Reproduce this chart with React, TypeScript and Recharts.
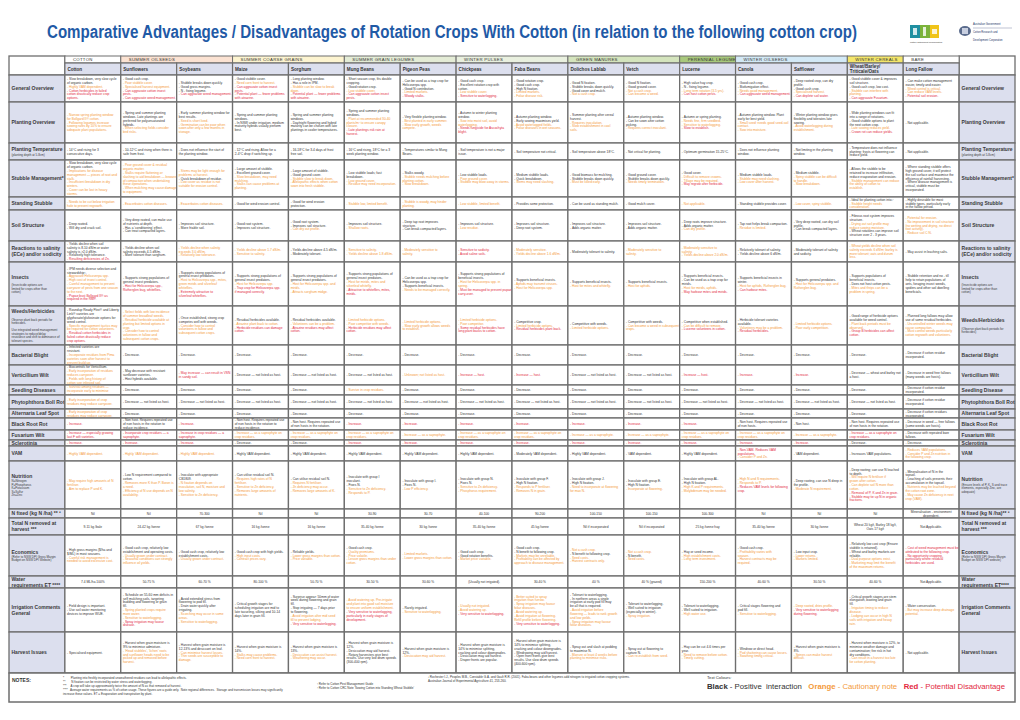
import React from "react";
import { ComposedChart, XAxis, YAxis, ReferenceArea } from "recharts";

// ---------------- DATA ----------------
const groupNames = ["COTTON", "SUMMER OILSEEDS", "SUMMER COARSE GRAINS", "SUMMER GRAIN LEGUMES", "WINTER PULSES", "GREEN MANURES", "PERENNIAL LEGUME", "WINTER OILSEEDS", "WINTER CEREALS", "BARE"];
const groupSpans = [1, 2, 2, 2, 2, 2, 1, 2, 1, 1];
const crops = ["Cotton", "Sunflowers", "Soybeans", "Maize", "Sorghum", "Mung Beans", "Pigeon Peas", "Chickpeas", "Faba Beans", "Dolichos Lablab", "Vetch", "Lucerne", "Canola", "Safflower", "Wheat/Barley/\nTriticale/Oats", "Long Fallow"];

const rowLabels = ["General Overview", "Planting Overview", "Planting Temperature", "Stubble Management*", "Standing Stubble", "Soil Structure", "Reactions to salinity\n(ECe)  and/or sodicity", "Insects", "Weeds/Herbicides", "Bacterial Blight", "Verticillium Wilt", "Seedling Diseases", "Phytophthora Boll Rot", "Alternaria Leaf Spot", "Black Root Rot", "Fusarium Wilt", "Sclerotinia", "VAM", "Nutrition", "N fixed  (kg N /ha) ** \u00b3", "Total N removed at\nharvest ***", "Economics", "Water\nrequirements ET ****", "Irrigation Comments\nGeneral", "Harvest Issues"];
const rowLabelsRight = ["General Overview", "Planting Overview", "Planting Temperature", "Stubble Management*", "Standing Stubble", "Soil Structure", "Reactions to salinity\n(ECe)  and/or sodicity", "Insects", "Weeds/Herbicides", "Bacterial Blight", "Verticillium Wilt", "Seedling Disease", "Phytophthora Boll Rot", "Alternaria Leaf Spot", "Black Root Rot", "Fusarium Wilt", "Sclerotinia", "VAM", "Nutrition", "N fixed  (kg N /ha)** \u00b3", "Total N removed at\nharvest ***", "Economics", "Water\nrequirements ET****", "Irrigation Comments\nGeneral", "Harvest Issues"];
const rowSubLabels = ["", "", "(planting depth at 5-8cm)", "", "", "", "", "\n(Insecticide options are\nlimited for crops other than\ncotton)", "\nObserve plant back periods for\nherbicides.\n\nUse integrated weed management\nstrategies to reduce/delay\nresistance and shift to dominance of\ntolerant species.", "", "", "", "", "", "", "", "", "", "N=Nitrogen\nP=Phosphorus\nK=Potassium\nS=Sulfur\nZn=Zinc", "", "", "(Refer to NSW DPI Gross Margin\nBudget on NSW DPI Website)", "", "", ""];
const rowSubLabelsRight = ["", "", "(planting depth at 5-8cm)", "", "", "", "", "\n(Insecticide options are\nlimited for crops other than\ncotton)", "\n(Observe plant back periods for\nherbicides)", "", "", "", "", "", "", "", "", "", "(Ensure levels of P, K, S and trace\nelements, especially Zinc, are\nadequate)", "", "", "(Refer to NSW DPI Gross Margin\nBudget on NSW DPI website)", "", "", ""];

const generalOverview = [
  "k- Slow breakdown, very slow cycle of organic carbon.~o- Highly VAM dependent.~r- Cotton herbicides in failed cotton drastically reduce crop options.",
  "k- Good cash crop.~o- Poor stubble cover.~o- Specialised harvest equipment.~r- Can aggravate cotton insect pests.~r- Can aggravate weed management.",
  "k- Stubble breaks down quickly.~k- Good gross margins.~k- N - fixing legume.~r- Can aggravate weed management.",
  "k- Good stubble cover.~o- Need corn front to harvest.~r- Can aggravate cotton insect pests.~r- Potential plant \u2014 fewer problems with atrazine.",
  "k- Long planting window.~k- Has a role in IPM.~o- Stubble can be slow to break down.~r- Potential plant \u2014 fewer problems with atrazine.",
  "k- Short season crop, fits double cropping.~k- Good rotation crop.~o- Low stubble cover.~r- Can aggravate cotton insect pests.",
  "k- Can be used as a trap crop for Helicoverpa spp.~k- Good N contribution.~o- Limited markets.~r- Woody stalks.",
  "k- Good cash crop.~k- Excellent rotation crop with cotton.~o- Low stubble cover.~r- Sensitive to waterlogging.",
  "k- Good rotation crop.~k- Good cash crop.~k- High N fixation.~o- Limited markets.~o- Foliar disease risk.",
  "k- Good N fixation.~k- Stubble breaks down quickly.~k- Good cover and mulch.~o- Not a cash crop.",
  "k- Good N fixation.~k- Good ground cover.~o- Not a cash crop.~o- Can become a weed.",
  "k- High value hay crop.~k- N - fixing legume.~o- Long term rotation (3-5 yrs).~r- Can host cotton pests.",
  "k- Good cash crop.~k- Biofumigation effect.~o- Needs good management.~r- Can aggravate weed management.",
  "k- Deep rooted crop, can dry profile.~k- Good cash crop.~o- Specialised harvest.~r- Can deplete soil water.",
  "k- Good stubble cover & improves soil structure.~k- Good cash crop, low cost.~o- Stubble can interfere with planting.~r- Can aggravate Fusarium.",
  "k- Can make cotton management easier, timely and easier.~o- Weed control is critical.~o- Can reduce VAM levels.~r- Potential soil erosion.",
];
const plantingOverview = [
  "o- Narrow spring planting window for Bollgard II\u00ae cotton.~o- Following legumes increase sowing rates by 10% to ensure adequate plant populations.",
  "k- Spring and summer planting windows. Late plantings are preferred for polyunsaturated hybrids.~o- When selecting fields consider bird risks.",
  "k- Early summer planting window for best results.~o- Seed is short lived.~o- Germination can be poor when sown after only a few months in storage.",
  "k- Spring and summer planting windows.~k- In NSW under irrigation, medium maturity hybrids usually perform best.",
  "k- Spring and summer planting windows.~k- Day/night flowering and hybrid maturity can be chosen with late plantings in cooler temperatures.",
  "k- Spring and summer planting windows.~o- Plant at recommended 30-40 plants/m\u00b2 to ensure canopy closure.~r- Late plantings risk rain at harvest.",
  "k- Very flexible planting window.~o- Best planted in early summer.~o- Slow early growth, weeds compete.",
  "k- Autumn to winter planting window.~o- Sow into moist soil, avoid waterlogging.~r- Needs fungicide for Ascochyta blight.",
  "k- Autumn planting window.~k- Early sowing maximises yield.~o- Avoid waterlogged fields.~o- Foliar diseases in wet seasons.",
  "k- Summer planting after cereal harvest.~o- Requires inoculation.~o- Slow establishment in cool soils.",
  "k- Autumn planting window.~k- Can be sown after cotton picking.~o- Requires correct inoculant.",
  "k- Autumn or spring planting.~o- Needs fine, firm seedbed.~o- Sensitive to waterlogging.~r- Slow to establish.",
  "k- Autumn planting window. Plant early for best yield.~o- Small seed: needs good seed-soil contact.~o- Sow into moisture.",
  "k- Winter planting window gives flexibility and tolerates late sowing.~o- Avoid waterlogging during establishment.",
  "k- Wide planting windows can fit into a range of rotations.~k- Good stubble options to plant the next cotton crop.~o- Late sowing reduces yield.~r- Crown rot can reduce yields.",
  "k- Not applicable.",
];
const plantingTemperature = [
  "k- 14\u00b0C and rising for 3 consecutive days.",
  "k- 10-12\u00b0C and rising when there is safe from frost.",
  "k- Does not influence the start of the planting window.",
  "k- 12\u00b0C and rising. Allow for a 2-4\u00b0C drop if switching up.",
  "k- 16-18\u00b0C for 3-4 days of frost free soil.",
  "k- 16\u00b0C and rising, 18\u00b0C for a 3 week planting window.",
  "k- Temperatures similar to Mung Beans.",
  "k- Soil temperature is not a major issue.",
  "k- Soil temperature not critical.",
  "k- Soil temperature above 18\u00b0C.",
  "k- Not critical for planting.",
  "k- Optimum germination 15-25\u00b0C.",
  "k- Does not influence planting window.",
  "k- Not limiting in the planting window.",
  "k- Temperature does not influence planting; frosts at flowering can reduce yield.",
  "k- Not applicable.",
];
const stubbleManagement = [
  "k- Slow breakdown, very slow cycle of organic carbon.~o- Implications for disease management \u2014 pieces of root and stalk.~o- Insufficient breakdown in dry winters.~o- Cover can be lost in heavy storms.",
  "o- Poor ground cover & residual organic matter.~o- Stalks require flattening or slashing to aid breakdown \u2014 beware of compaction when undertaking these operations.~o- When mulching may cause damage to equipment.",
  "o- Stems may be light enough for problems at harvest.~k- Quick breakdown of residue.~o- Low cover as residue is not suitable for erosion control.",
  "k- Large amount of stubble.~k- Excellent ground cover.~o- Slow breakdown, may need mulching.~o- Stalks can cause problems at planting.",
  "k- Large amount of stubble.~k- Good ground cover.~o- Stubble slow to break down.~o- Allelopathic effects when cotton sown into fresh stubble.",
  "k- Low stubble loads; fast breakdown.~o- Low ground cover.~o- Residue may need incorporation.",
  "k- Stalks woody.~o- Stubble needs mulching before planting cotton.~o- Slow breakdown.",
  "k- Low stubble loads.~o- Poor ground cover.~o- Stubble may blow away in storms.",
  "k- Medium stubble loads.~k- Quick breakdown.~o- Stems may need slashing.",
  "k- Good biomass for mulching.~k- Stubble breaks down quickly.~o- Must be killed early.",
  "k- Good ground cover.~k- Stubble breaks down quickly.~o- Needs timely termination.",
  "k- Good cover.~o- Difficult to remove crowns.~o- Tillage may be required.~r- May regrow after herbicide.",
  "k- Medium stubble loads.~o- Stubble may need slashing.~o- Low cover after harvest.",
  "k- Medium stubble.~o- Spiny stubble can be difficult to handle.~o- Slow breakdown.",
  "k- Allows the stubble to be retained to increase infiltration, reduce evaporation and erosion.~o- Stubble management can reduce the ability of cotton to establish.",
  "k- Where standing stubble offers high ground cover, it will protect the soil surface and maximise the efficiency of rainfall harvesting.~k- Where disease management is critical, stubble must be incorporated.",
];
const standingStubble = [
  "o- Needs to be cut below irrigation hole to prevent regrowth.",
  "o- Exacerbates cotton diseases.",
  "o- Exacerbates cotton diseases.",
  "k- Good for wind erosion control.",
  "k- Good for wind erosion protection.",
  "o- Stubble low, limited benefit.",
  "o- Stubble is woody, may hinder planting.",
  "o- Low stubble, limited benefit.",
  "k- Provides some protection.",
  "k- Can be used as standing mulch.",
  "k- Good mulch cover.",
  "o- Not applicable.",
  "k- Standing stubble provides cover.",
  "o- Low cover, spiny stubble.",
  "k- Ideal for planting cotton into.\u00b2~o- Stubble height needs consideration.",
  "k- Highly desirable for most stubble types, particularly early in the fallow period.",
];
const soilStructure = [
  "k- Deep rooted.~k- Will dry and crack soil.",
  "k- Very deep rooted, can make use of nutrients at depth.~k- Has a 'conditioning' effect.~k- Can treat compacted layers.",
  "k- Improves soil structure.~k- More friable soil.",
  "k- Good root system.~k- Improves soil structure.",
  "k- Good root system.~k- Improves soil structure.~o- Can dry out profile.",
  "k- Improves soil structure.~o- Shallow roots.",
  "k- Deep tap root improves structure.~k- Can break compacted layers.",
  "k- Improves soil structure.~o- Low residue.",
  "k- Improves soil structure.~k- Deep root system.",
  "k- Improves soil structure.~k- Adds organic matter.",
  "k- Improves soil structure.~k- Adds organic matter.",
  "k- Deep roots improve structure.~k- Adds organic matter.~o- Can dry profile.",
  "k- Tap root helps break compaction.~o- Residue is limited.",
  "k- Very deep rooted, can dry soil profile.~k- Can break compacted layers.",
  "k- Fibrous root system improves structure.~o- Drying out soil profile may reduce sowing moisture.~k- Wheat rotations can improve soil structure over 2 - 3 years.",
  "o- Potential for erosion.~o- No improvement in soil structure (no wetting and drying, no direct root activity).~o- Reduce soil C:N.",
];
const salinity = [
  "k- Yields decline when soil salinity is 8-10 dS/m or water salinity is >2.0 dS/m.~k- Relatively high tolerance.~r- Resulting deficiencies of Zn.",
  "k- Yields decline when soil salinity exceeds 4-5 dS/m.~k- More tolerant than sorghum.",
  "o- Yields decline when salinity exceeds 3.0 dS/m.~o- Relatively low tolerance.",
  "o- Yields decline above 1.7 dS/m.~o- Sensitive to salinity.",
  "k- Yields decline above 4-5 dS/m.~k- Moderately tolerant.",
  "o- Sensitive to salinity.~o- Yields decline above 1.8 dS/m.",
  "o- Moderately sensitive to salinity.",
  "r- Sensitive to sodicity.~r- Avoid saline soils.",
  "o- Moderately sensitive.~o- Yields decline above 1.6 dS/m.",
  "k- Moderately tolerant to salinity.",
  "o- Moderately sensitive to salinity.",
  "o- Moderately sensitive to salinity.~o- Yields decline above 2.0 dS/m.",
  "k- Relatively tolerant of salinity.~k- Yields decline above 6 dS/m.",
  "k- Moderately tolerant of salinity and sodicity.",
  "o- Wheat yields decline when soil salinity exceeds 6 dS/m; barley is more tolerant; oats and durum less.",
  "k- May assist in leaching salts.",
];
const insects = [
  "k- IPM needs diverse selection and stewardship\u00b9.~o- Aggravate Helicoverpa spp.~o- High cost of insect control.~o- Careful management to prevent carryover of pests from one season to the next.~r- Pupae bust Bollgard II\u00ae as required in the RMP.",
  "k- Supports strong populations of general insect predators.~r- Host for Helicoverpa spp., Rutherglen bug, whiteflies.",
  "k- Supports strong populations of general insect predators.~o- Host to Helicoverpa spp., mites, green mirids and silverleaf whiteflies.~r- Extremely attractive to silverleaf whiteflies.",
  "k- Supports strong populations of general insect predators.~o- Host for Helicoverpa spp.~r- Trap crop for Helicoverpa spp. if managed correctly.",
  "k- Supports strong populations of general insect predators.~o- Host for Helicoverpa spp. and mirids.~o- Attracts sorghum midge.",
  "k- Supports strong populations of general insect predators.~o- Host for mirids, mites and silverleaf whitefly.~r- Attractive to whiteflies, mites, mirids.",
  "k- Can be used as a trap crop for Helicoverpa spp.~k- Supports beneficial insects.~o- Needs to be managed correctly.",
  "k- Supports strong populations of beneficial insects.~o- Host for Helicoverpa spp. in spring.~r- Must be managed to prevent pupae carry-over.",
  "k- Supports beneficial insects.~o- Aphids may transmit viruses.~o- Host for Helicoverpa spp.",
  "k- Supports beneficial insects.~o- Host for mites and whitefly.",
  "k- Supports beneficial insects.~o- Host for aphids.",
  "k- Supports beneficial insects.~k- Can be used as a trap crop for mirids.~o- Host for mirids, aphids.~r- May harbour mites and mirids.",
  "k- Supports beneficial insects in winter.~o- Host for aphids, Rutherglen bug.~r- Can harbour mites.",
  "k- Supports general predators.~o- Host for Helicoverpa spp. and Rutherglen bug.",
  "k- Supports populations of beneficial insects.~k- Does not host cotton pests.~o- Mites and thrips can be a problem in spring.",
  "k- Stubble retention and no - till help to retain populations of ants, foraging insect weeds, spiders and other soil dwelling beneficials.",
];
const weeds = [
  "k- Roundup Ready Flex\u00ae and Liberty Link\u00ae varieties are glyphosate/glufosinate options for weed control.~o- Specific management tactics may be required for cotton volunteers.~r- Residual cotton herbicides in failed cotton drastically reduce crop options.",
  "o- Select fields with low incidence of summer broadleaf weeds.~o- Residual herbicide available at planting but limited options in crop.~o- Consider how to control volunteers in fallow and subsequent cotton crops.",
  "k- Once established, strong crop competes well with weeds.~o- Consider how to control volunteers in fallow and subsequent cotton crops.",
  "k- Residual herbicides available.~o- Atrazine plant back to cotton.~r- Herbicide residues can damage cotton.",
  "k- Residual herbicides available.~o- Volunteers can be a problem.~r- Atrazine residues may affect cotton.",
  "o- Limited herbicide options.~o- Poor competitor with weeds.~r- Herbicide residues may affect cotton.",
  "o- Limited herbicide options.~o- Slow early growth allows weeds to establish.",
  "o- Limited herbicide options.~o- Poor competitor.~r- Some residual herbicides have long plant backs to cotton.",
  "k- Competitive crop.~o- Limited herbicide options.~r- Residual herbicides plant back.",
  "k- Competitive with weeds.~o- Limited herbicide options.",
  "k- Competitive with weeds.~o- Can become a weed in subsequent crops.",
  "k- Competitive when established.~o- Can be difficult to remove.~r- Lucerne volunteers in cotton.",
  "k- Herbicide tolerant varieties available.~o- Volunteers may be a problem.~r- Residual herbicides.",
  "o- Limited herbicide options.~o- Poor early competition.",
  "k- Good range of herbicide options available for weed control.~o- Plant back periods must be observed.~r- Group B herbicides can affect cotton.",
  "k- Planned long fallows may allow use of some residual herbicides.~o- Uncontrolled winter weeds may cause compaction.~o- Must control weeds particularly cotton regrowth and volunteers.",
];
const bacterialBlight = [
  "k- Infected varieties are resistant.~o- Incorporate residues from Pima varieties soon after harvest to prevent build up.",
  "k- Decrease.", "k- Decrease.", "k- Decrease.", "k- Decrease.", "k- Decrease.", "k- Decrease.", "k- Decrease.",
  "k- Decrease.", "k- Decrease.", "k- Decrease.", "k- Decrease.", "k- Decrease.", "k- Decrease.", "k- Decrease.",
  "k- Decrease if cotton residue incorporated.",
];
const verticillium = [
  "k- Biocontrols for Verticillium.~o- Early incorporation of residues reduces carryover.~o- Fields with long history of cotton see infested soil.",
  "k- May decrease with resistant sunflower varieties.~k- Host hybrids available.",
  "r- May increase \u2014 can result in VSN in sandy soil.",
  "k- Decrease \u2014 not listed as host.",
  "k- Decrease \u2014 not listed as host.",
  "k- Decrease \u2014 not listed as host.",
  "o- Unknown; not listed as host.",
  "r- Increase \u2014 host.",
  "r- Increase \u2014 host.",
  "k- Decrease \u2014 not listed as host.",
  "k- Decrease \u2014 not listed as host.",
  "r- Increase \u2014 host.",
  "r- Increase.",
  "r- Increase.",
  "k- Decrease \u2014 wheat and barley not a host.",
  "k- Decrease in weed free fallows (many weeds are hosts).",
];
const seedling = [
  "o- Survival among residues \u2014 incorporate early to minimise risk.",
  "k- Decrease.", "k- Decrease.", "k- Decrease.", "k- Decrease.", "o- Survive in crop residues.", "k- Decrease.", "k- Decrease.",
  "k- Decrease.", "k- Decrease.", "k- Decrease.", "k- Decrease.", "k- Decrease.", "k- Decrease.", "k- Decrease.",
  "k- Decrease if cotton residue incorporated.",
];
const phytophthora = [
  "o- Early incorporation of crop residues may reduce carryover.",
  "k- Decrease \u2014 not listed as host.", "k- Decrease \u2014 not listed as host.", "k- Decrease \u2014 not listed as host.", "k- Decrease \u2014 not listed as host.",
  "k- Decrease \u2014 not listed as host.", "k- Decrease \u2014 not listed as host.", "k- Decrease \u2014 not listed as host.", "k- Decrease \u2014 not listed as host.",
  "k- Decrease \u2014 not listed as host.", "k- Decrease \u2014 not listed as host.", "k- Decrease \u2014 not listed as host.", "k- Decrease \u2014 not listed as host.",
  "k- Decrease \u2014 not listed as host.", "k- Decrease \u2014 not listed as host.",
  "k- Decrease if cotton residue incorporated.",
];
const alternaria = [
  "o- Early incorporation of crop residues may reduce carryover.",
  "k- Decrease.", "k- Decrease.", "k- Decrease.", "k- Decrease.", "k- Decrease.", "k- Decrease.", "k- Decrease.",
  "k- Decrease.", "k- Decrease.", "k- Decrease.", "k- Decrease.", "k- Decrease.", "k- Decrease.", "k- Decrease.",
  "k- Decrease if cotton residues incorporated.",
];
const blackRootRot = [
  "r- Increase.",
  "k- Non host. Requires repeated use of non hosts in the rotation to reduce incidence.",
  "r- Increase.",
  "k- Non host. Requires repeated use of non hosts in the rotation to reduce incidence.",
  "k- Non host. Requires repeated use of non hosts in the rotation.",
  "r- Increase.", "r- Increase.", "r- Increase.", "r- Increase.", "r- Increase.", "r- Increase.", "r- Increase.",
  "k- Non host. Requires repeated use of non hosts.",
  "k- Non host.",
  "k- Non host. Requires repeated use of non hosts in the rotation.",
  "k- Decrease in weed \u2014 free fallows (some weeds are hosts).",
];
const fusarium = [
  "r- Increase \u2014 especially growing last F wilt varieties.",
  "r- Incorporate crop residues \u2014 a saprophyte.",
  "r- Increase in crop residues \u2014 a saprophyte.",
  "o- Increase \u2014 as a saprophyte on crop residues.",
  "o- Increase \u2014 as a saprophyte on crop residues.",
  "o- Increase \u2014 as a saprophyte on crop residues.",
  "o- Increase \u2014 as a saprophyte.",
  "o- Increase \u2014 as a saprophyte on crop residues.",
  "o- Increase \u2014 as a saprophyte on crop residues.",
  "o- Increase \u2014 as a saprophyte.",
  "o- Increase \u2014 as a saprophyte.",
  "o- Increase \u2014 as a saprophyte on crop residues.",
  "o- Increase \u2014 as a saprophyte on crop residues.",
  "o- Increase \u2014 as a saprophyte.",
  "r- Increase \u2014 as a saprophyte on crop residues.",
  "k- Decrease with repeated bare fallows.",
];
const sclerotinia = [
  "r- Increase.", "r- Increase.", "r- Increase.", "k- Decrease.", "k- Decrease.", "r- Increase.", "r- Increase.", "r- Increase.",
  "r- Increase.", "r- Increase.", "r- Increase.", "r- Increase.", "r- Increase.", "r- Increase.", "k- Decrease.", "k- Decrease.",
];
const vam = [
  "o- Highly VAM dependent.", "o- Highly VAM dependent.", "o- Highly VAM dependent.", "k- Highly VAM dependent.", "k- Highly VAM dependent.",
  "k- Highly VAM dependent.", "k- Highly VAM dependent.", "k- Highly VAM dependent.", "k- Moderately VAM dependent.", "k- Highly VAM dependent.",
  "k- VAM dependent.", "k- Highly VAM dependent.", "r- Non-VAM. Reduces VAM populations.~o- Consider P and Zn.", "k- VAM dependent.",
  "k- Increases VAM populations.", "o- Reduces VAM populations.~o- Consider P and Zn nutrition in the following crop.",
];
const nutrition = [
  "o- May require high amounts of N fertiliser.~o- Aim to replace P and K.",
  "k- Low N requirement compared to cotton.~o- Removes more K than P. Boron is a need.~o- Efficiency of N use depends on N availability.",
  "k- Inoculate with appropriate CB1809.~o- N fixation depends on inoculation, soil N, moisture and low salinity.~o- Sensitive to Zn deficiency.",
  "k- Can utilise residual soil N.~o- Requires high rates of N fertiliser.~o- Sensitive to Zn deficiency.~o- Removes large amounts of nutrients.",
  "k- Can utilise residual soil N.~o- Requires N fertiliser.~o- Zn deficiency may occur.~o- Removes large amounts of K.",
  "k- Inoculate with group I inoculant.~k- Fixes N.~o- Sensitive to Zn deficiency.~o- Responds to P.",
  "k- Inoculate with group I.~k- Fixes N.~o- Low P efficiency.",
  "k- Inoculate with group N.~k- Fixes N.~o- Sensitive to Zn deficiency.~o- Phosphorus requirement.",
  "k- Inoculate with group F.~k- High N fixation.~o- Responds to P fertiliser.~o- Removes N in grain.",
  "k- Inoculate with group J.~k- High N fixation.~o- Need to incorporate at flowering for max N.",
  "k- Inoculate with group E.~k- High N fixation.~o- Incorporate at flowering.",
  "k- Inoculate with group AL.~k- High N fixation.~o- High K and P requirements.~o- Molybdenum may be needed.",
  "o- High N and S requirements.~o- Responds to P.~r- Reduces VAM levels for following crop.",
  "k- Deep rooting, can use N deep in the profile.~o- Moderate N requirement.",
  "k- Deep rooting; can use N leached to depth.~o- Will require N fertiliser if grown after cotton.~o- Can deplete soil N more than cotton.~r- Removal of P, K and Zn in grain.~r- Stubble may tie up N in organic fractions.",
  "k- Mineralisation of N in the topsoil.~k- Leaching of soils prevents their accumulation in the topsoil.~o- Nutrients may be leached beyond the cotton root zone.~o- May cause Zn deficiency in next crop (VAM).",
];
const nFixed = ["Nil", "Nil", "70-300", "Nil", "Nil", "30-90", "30-70", "40-100", "90-200", "100-150", "100-150", "100-300", "Nil", "Nil", "Nil", "Mineralisation - environment dependent."];
const totalNRemoved = ["9-11 kg /bale", "24-42 kg /tonne", "67 kg /tonne", "16 kg /tonne", "16 kg /tonne", "35-40 kg /tonne", "30 kg /tonne", "35-40 kg /tonne", "45 kg /tonne", "Nil if incorporated", "Nil if incorporated", "25 kg /tonne hay", "35-40 kg /tonne", "30 kg /tonne", "Wheat 20 kg/t, Barley 18 kg/t, Oats 17 kg/t", "Not Applicable."];
const economics = [
  "k- High gross margins ($/ha and $/ML) in most seasons.~o- Careful risk management is needed to avoid excessive cost.",
  "k- Good cash crop, relatively low establishment and operating costs.~o- Usually grown under contract.~o- Seasonal conditions can strongly influence oil yields.",
  "k- Good cash crop, relatively low establishment costs.~o- Usually grown under contract.",
  "k- Good cash crop with high yields.~o- High input costs.~o- Contract prices vary.",
  "k- Reliable yields.~o- Lower gross margins than cotton.~o- Price variable.",
  "k- Good cash crop.~o- Quality premiums.~o- Price volatile.~o- Lesser gross margins than under cotton.",
  "o- Limited markets.~o- Lower gross margins than cotton.",
  "k- Good cash crop.~k- Good rotation benefits.~o- Market price variable.",
  "k- Good cash crop.~k- N benefit to following crop.~o- Markets may be unreliable.~o- Profitability can be affected by approach to disease management.",
  "o- Not a cash crop.~k- N benefit to following crop.~o- Seed costs.~o- Harvest contracts only.",
  "o- Not a cash crop.~k- N benefit.~o- Seed costs.",
  "k- Hay or seed income.~o- High establishment costs.~o- Long term investment.",
  "k- Good cash crop.~o- Profitability varies with season.~o- Harvest contracts may be required.",
  "k- Low input crop.~o- Lower returns.~o- Markets limited.",
  "k- Relatively low cost crop (Ensure stubble is retained).~k- Wheat and barley markets are reliable.~o- Dual purpose options exist.~o- Marketing may limit the benefit of the maximum returns.",
  "r- Cost of weed management must be attributed to the following crop.~r- No opportunity cropping, particularly where residual herbicides are used.",
];
const waterRequirements = ["7.4 ML/ha  100%", "50-75 %", "60-70 %", "80-100 %", "50-70 %", "30-50 %", "30-60 %", "(Usually not irrigated).", "30-40 %", "40 %", "40 % (grazed)", "150-200 %", "40-60 %", "30-50 %", "40-60 %", "Not Applicable."];
const irrigation = [
  "k- Field design is important.~k- Use soil water monitoring devices to improve WUE.",
  "k- Schedule on 55-60 mm deficits in self mulching soils, targeting budding and flowering or grain fill.~o- Spring planted crops require more water.~o- Sensitive to waterlogging.~r- Spray irrigation may favour disease.",
  "k- Avoid extended stress from flowering to pod fill.~k- Drain water quickly after irrigating.~o- Scorching may occur in some areas.~o- Sensitive to waterlogging.",
  "k- Critical growth stages for scheduling irrigation are mid to late tasseling, silking and 10-14 days later in grain fill.",
  "k- Surprise appear: 50mm of water week during flowering and grain fill.~k- Stop irrigating \u2014 7 days prior to flowering.~o- Avoid irrigation after mid seed fill to prevent lodging.~r- Very sensitive to waterlogging.",
  "o- Avoid watering up. Pre-irrigate and plant into good soil moisture to ensure uniform establishment.~r- Very sensitive to waterlogging, particularly in early stages of development.",
  "k- Rarely irrigated.~o- Sensitive to waterlogging.",
  "o- Usually not irrigated.~o- Avoid watering up.~r- Very sensitive to waterlogging.",
  "o- Better suited to spray irrigation than furrow.~o- Spray irrigation may favour foliar diseases.~o- Avoid watering up.~o- Avoid irrigation at flowering. Refill profile before flowering.~r- Very sensitive to waterlogging.",
  "k- Tolerant to waterlogging.~k- In northern areas a single irrigation at early pod fill may be all that is required.~o- Avoid irrigation before flowering \u2014 leads to rank growth and low yields.~o- Spray irrigation may favour foliar diseases.",
  "k- Tolerant to waterlogging.~k- Well suited to irrigation (especially in winter).~o- Spray irrigation.",
  "k- Tolerant to waterlogging.~k- Well suited to irrigation.~o- High water use.",
  "k- Critical stages flowering and pod fill.~o- Sensitive to waterlogging.",
  "o- Deep rooted, dries profile.~r- Very sensitive to waterlogging during flowering.",
  "k- Critical growth stages are stem elongation, booting and grain fill.~o- Irrigation timing to reduce disease.~o- Lodging can occur in high N soils with irrigation and heavy rain.",
  "k- Water conservation.~o- But may increase deep drainage potential.",
];
const harvest = [
  "k- Specialised equipment.",
  "k- Harvest when grain moisture is 9% to minimise admixture.~o- 'Head stubbles', 'lichen' roots and sunflower heads need to be picked up and removed before harvest.",
  "k- Harvest when grain moisture is 12-13% and desiccant on leaf.~o- Can minimise harvest losses.~o- Thin seeds are susceptible to damage.",
  "k- Harvest when grain moisture is 14%.~o- Stalks may cause problems.~o- Need corn front to harvest.",
  "k- Harvest when grain moisture is 13%.~o- Desiccation can assist harvest.~o- Weathering may occur.",
  "k- Harvest when grain moisture is 12%.~k- Desiccation may aid harvest.~k- Rotary harvesters give best results. Use very low drum speeds (300-400 rpm).",
  "k- Harvest when grain moisture is 12%.~o- Desiccation may aid harvest.",
  "k- Harvest when grain moisture is 14% to minimise splitting, cracking and colour downgrades.~k- Desiccation may aid harvest.~k- Draper fronts are popular.",
  "k- Harvest when grain moisture is 14% to minimise splitting, cracking and colour downgrades.~k- Windrowing may aid harvest.~k- Open front fronts give best results. Use slow drum speeds (400-600 rpm).",
  "k- Spray out and slash at podding to maximise N.~o- Manure at least 4 weeks before planting to minimise risks.",
  "k- Spray out at flowering to capture N.~o- Can re-establish from seed.",
  "k- Hay can be cut 4-6 times per year.~o- Need to remove before cotton.~o- Timely cutting.",
  "k- Windrow or direct head.~o- Pod shattering can cause losses.~o- Swathing timing critical.",
  "k- Harvest when grain moisture is 8%.~o- Spines can make harvest difficult.",
  "k- Harvest when moisture is 12%, to minimise weather damage and contamination; fire risk in hot dry conditions.~o- Can result in a harvest too late for cotton planting.",
  "k- Not applicable.",
];

const notesLines = [
  "*        Planting into freshly incorporated unweathered residues can lead to allelopathic effects.",
  "**       N fixation can be restricted by water stress and waterlogging.",
  "***     A crop will take up approximately twice the amount of N as that removed at harvest.",
  "****   Average water requirements as % of cotton usage. These figures are a guide only.  Note regional differences.  Storage and transmission losses may significantly",
  "increase these values. ET = Evaporation and transpiration by plant.",
];
const refLines = ["\u00b9 Refer to Cotton Pest Management Guide", "\u00b2 Refer to Cotton CRC Note 'Sowing Cotton into Standing Wheat Stubble'"];
const ref3Lines = ["\u00b3 Rochester I.J., Peoples M.B., Constable G.A. and Gault R.R. (2001). Faba beans and other legumes add nitrogen to irrigated cotton cropping systems.", "Australian Journal of Experimental Agriculture 41, 253-260."];
const logoTextLines = ["Australian Government", "Cotton Research and", "Development Corporation"];

// ---------------- LAYOUT / STYLE ----------------
const rowCells = [generalOverview, plantingOverview, plantingTemperature, stubbleManagement, standingStubble, soilStructure, salinity, insects, weeds, bacterialBlight, verticillium, seedling, phytophthora, alternaria, blackRootRot, fusarium, sclerotinia, vam, nutrition, nFixed, totalNRemoved, economics, waterRequirements, irrigation, harvest];
const centeredRows = [19, 20, 22];
const headerHeights = [7, 12];
const rowHeights = [27, 41, 17, 37, 13, 31, 21, 44, 39, 20, 20, 10, 14, 9, 12, 10, 6, 15, 48, 9, 17, 41, 12, 44, 41];
const notesHeight = 29;
const groupColors = ["#ffffff", "#fbe2d2", "#fdf4d0", "#e4ecd6", "#e9f0df", "#d4e4bd", "#a8c87c", "#d3e9f6", "#f4e66a", "#ffffff"];
const lavender = "#dcdfee";
const borderColor = "#6e6e6e";
const textColors: Record<string, string> = { k: "#333333", o: "#f49a3a", r: "#e3283e" };
const FONT = "'Liberation Sans', Arial, sans-serif";

const totalHeight = headerHeights[0] + headerHeights[1] + rowHeights.reduce((a, b) => a + b, 0) + notesHeight;

function wrap(text: string, max: number): string[] {
  const words = text.split(" ");
  const out: string[] = [];
  let cur = "";
  for (const w of words) {
    if (cur && (cur + " " + w).length > max) {
      out.push(cur);
      cur = w;
    } else cur = cur ? cur + " " + w : w;
  }
  if (cur) out.push(cur);
  return out;
}

function BodyCell(props: any) {
  const { x, y, width, height, content, centered } = props;
  const fs = 3.25;
  const lh = 3.85;
  let lines: { c: string; t: string }[] = [];
  if (centered) {
    wrap(content, 30).forEach((t) => lines.push({ c: "k", t }));
  } else {
    content.split("~").forEach((b: string) => {
      const c = b[0];
      wrap(b.slice(1), 34).forEach((t) => lines.push({ c, t }));
    });
  }
  let y0 = y + height / 2 - (lines.length * lh) / 2 + lh * 0.78;
  if (y0 < y + lh * 0.85) y0 = y + lh * 0.85;
  return (
    <g>
      <rect x={x} y={y} width={width} height={height} fill="#ffffff" stroke={borderColor} strokeWidth={1.3} />
      {lines.map((l, i) => (
        <text key={i} x={centered ? x + width / 2 : x + 2.2} y={y0 + i * lh} fontSize={fs} fontFamily={FONT} fill={textColors[l.c]} textAnchor={centered ? "middle" : "start"}>
          {l.t}
        </text>
      ))}
    </g>
  );
}

function LabelCell(props: any) {
  const { x, y, width, height, label, sub } = props;
  const main = label.split("\n");
  const subs = sub ? sub.split("\n") : [];
  const mfs = 5.0, mlh = 5.9, sfs = 3.0, slh = 3.5;
  const total = main.length * mlh + subs.length * slh;
  let cy = y + height / 2 - total / 2;
  const items: any[] = [];
  main.forEach((t: string, i: number) => {
    cy += mlh;
    items.push(<text key={"m" + i} x={x + 2.5} y={cy - 1.3} fontSize={mfs} fontWeight="bold" fontFamily={FONT} fill="#3a3a3a">{t}</text>);
  });
  subs.forEach((t: string, i: number) => {
    cy += slh;
    items.push(<text key={"s" + i} x={x + 2.5} y={cy - 0.7} fontSize={sfs} fontFamily={FONT} fill="#3a3a3a">{t}</text>);
  });
  return (
    <g>
      <rect x={x} y={y} width={width} height={height} fill={lavender} stroke={borderColor} strokeWidth={1.3} />
      {items}
    </g>
  );
}

function GroupCell(props: any) {
  const { x, y, width, height, name, color } = props;
  return (
    <g>
      <rect x={x} y={y} width={width} height={height} fill={color} stroke={borderColor} strokeWidth={1} />
      <text x={x + 8} y={y + height - 1.6} fontSize={4.3} fontFamily={FONT} fill="#333" letterSpacing={0.3}>{name}</text>
    </g>
  );
}

function CropCell(props: any) {
  const { x, y, width, height, name } = props;
  const parts = name.split("\n");
  return (
    <g>
      <rect x={x} y={y} width={width} height={height} fill={lavender} stroke={borderColor} strokeWidth={1.2} />
      {parts.map((t: string, i: number) => (
        <text key={i} x={x + 2.5} y={parts.length > 1 ? y + 4.8 + i * 5 : y + height / 2 + 2} fontSize={4.6} fontWeight="bold" fontFamily={FONT} fill="#333">{t}</text>
      ))}
    </g>
  );
}

function BlankCell(props: any) {
  const { x, y, width, height } = props;
  return <rect x={x} y={y} width={width} height={height} fill="#ffffff" stroke={borderColor} strokeWidth={1.3} />;
}

function NotesCell(props: any) {
  const { x, y, width, height } = props;
  return (
    <g fontFamily={FONT}>
      <rect x={x} y={y} width={width} height={height} fill="#ffffff" stroke={borderColor} strokeWidth={1.5} />
      <text x={x + 3} y={y + 9} fontSize={5} fontWeight="bold" fill="#333">NOTES:</text>
      {notesLines.map((t, i) => (
        <text key={i} x={x + 54} y={y + 6 + i * 4} fontSize={3} fill="#333" style={{ whiteSpace: "pre" }}>{t}</text>
      ))}
      {refLines.map((t, i) => (
        <text key={"r" + i} x={x + 308} y={y + 12 + i * 4} fontSize={3} fill="#333">{t}</text>
      ))}
      {ref3Lines.map((t, i) => (
        <text key={"q" + i} x={x + 419} y={y + 5 + i * 3.8} fontSize={3} fill="#333">{t}</text>
      ))}
      <text x={x + 698} y={y + 6} fontSize={4.2} fill="#333">Text Colours:</text>
      <text x={x + 698} y={y + 15.5} fontSize={7.3} textLength={298} lengthAdjust="spacingAndGlyphs" style={{ whiteSpace: "pre" }}>
        <tspan fontWeight="bold" fill="#333">Black</tspan>
        <tspan fill="#333"> - Positive  interaction   </tspan>
        <tspan fontWeight="bold" fill="#f49a3a">Orange</tspan>
        <tspan fill="#f49a3a"> - Cautionary note   </tspan>
        <tspan fontWeight="bold" fill="#e3283e">Red</tspan>
        <tspan fill="#e3283e"> - Potential Disadvantage</tspan>
      </text>
    </g>
  );
}

export default function App() {
  const areas: React.ReactNode[] = [];
  const nCols = crops.length + 2;
  const hTop = 0;
  const hMid = headerHeights[0];
  const hBot = headerHeights[0] + headerHeights[1];
  areas.push(<ReferenceArea key="c0" x1={0} x2={1} y1={hTop} y2={hBot} shape={(p: any) => <BlankCell {...p} />} />);
  areas.push(<ReferenceArea key="c1" x1={nCols - 1} x2={nCols} y1={hTop} y2={hBot} shape={(p: any) => <BlankCell {...p} />} />);
  let gc = 1;
  groupNames.forEach((g, i) => {
    const span = groupSpans[i];
    areas.push(
      <ReferenceArea key={"g" + i} x1={gc} x2={gc + span} y1={hTop} y2={hMid} shape={(p: any) => <GroupCell {...p} name={g} color={groupColors[i]} />} />
    );
    gc += span;
  });
  crops.forEach((c, i) => {
    areas.push(<ReferenceArea key={"h" + i} x1={i + 1} x2={i + 2} y1={hMid} y2={hBot} shape={(p: any) => <CropCell {...p} name={c} />} />);
  });
  let top = hBot;
  rowCells.forEach((cells, r) => {
    const bottom = top + rowHeights[r];
    const t0 = top;
    areas.push(<ReferenceArea key={"l" + r} x1={0} x2={1} y1={t0} y2={bottom} shape={(p: any) => <LabelCell {...p} label={rowLabels[r]} sub={rowSubLabels[r]} />} />);
    cells.forEach((cell, ci) => {
      areas.push(
        <ReferenceArea key={"b" + r + "_" + ci} x1={ci + 1} x2={ci + 2} y1={t0} y2={bottom} shape={(p: any) => <BodyCell {...p} content={cell} centered={centeredRows.includes(r)} />} />
      );
    });
    areas.push(<ReferenceArea key={"rl" + r} x1={nCols - 1} x2={nCols} y1={t0} y2={bottom} shape={(p: any) => <LabelCell {...p} label={rowLabelsRight[r]} sub={rowSubLabelsRight[r]} />} />);
    top = bottom;
  });
  areas.push(<ReferenceArea key="notes" x1={0} x2={nCols} y1={top} y2={top + notesHeight} shape={(p: any) => <NotesCell {...p} />} />);

  const dummy = [{ x: 0, y: 0 }, { x: nCols, y: totalHeight }];

  return (
    <div style={{ position: "absolute", left: 0, top: 0, width: 1020, height: 720, background: "#ffffff", fontFamily: FONT }}>
      <svg width={1020} height={56} style={{ position: "absolute", left: 0, top: 0 }}>
        <text x={47} y={37.5} fontSize={17.5} fontWeight="bold" fontFamily="'Liberation Sans Narrow', 'Liberation Sans', Arial, sans-serif" fill="#1f5aa6" textLength={810} lengthAdjust="spacingAndGlyphs">
          Comparative Advantages / Disadvantages of Rotation Crops With Cotton (in relation to the following cotton crop)
        </text>
        <g>
          <rect x={910} y={25} width={10} height={13} fill="#1f8fa0" />
          <rect x={920} y={25} width={10} height={13} fill="#7bb33a" />
          <rect x={930} y={25} width={9} height={13} fill="#f0c419" />
          <rect x={913} y={28} width={4} height={7} fill="#ffffff" opacity={0.8} />
          <rect x={923} y={27} width={3} height={9} fill="#ffffff" opacity={0.8} />
          <rect x={932} y={29} width={5} height={5} fill="#ffffff" opacity={0.8} />
          <text x={910} y={43} fontSize={2.4} fontFamily={FONT} fill="#333">cotton catchment communities</text>
        </g>
        <g>
          <ellipse cx={965} cy={31} rx={6} ry={5} fill="#5a6b8c" />
          <rect x={962} y={28} width={6} height={6} fill="#c8cfe0" />
          <line x1={973} y1={28} x2={1012} y2={28} stroke="#223366" strokeWidth={0.3} />
          {logoTextLines.map((t, i) => (
            <text key={i} x={973} y={25 + i * 8} fontSize={i === 0 ? 2.7 : 2.6} fontFamily={FONT} fill="#223366">{t}</text>
          ))}
        </g>
      </svg>
      <div style={{ position: "absolute", left: 0, top: 0 }}>
        <ComposedChart width={1020} height={720} data={dummy} margin={{ top: 56, right: 5, bottom: 18, left: 9 }}>
          <XAxis type="number" dataKey="x" domain={[0, nCols]} hide allowDataOverflow />
          <YAxis type="number" dataKey="y" domain={[0, totalHeight]} reversed hide allowDataOverflow />
          {areas}
        </ComposedChart>
      </div>
    </div>
  );
}
